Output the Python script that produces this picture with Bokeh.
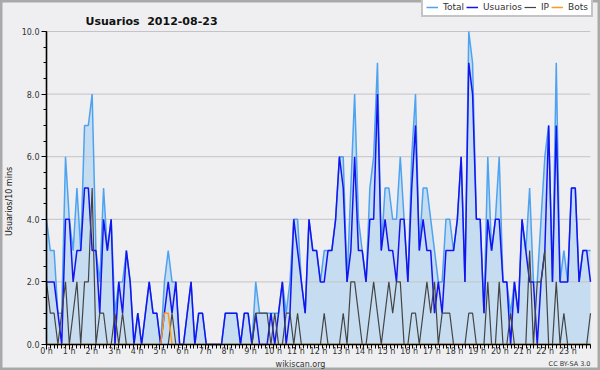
import math
from bokeh.plotting import figure
from bokeh.models import (ColumnDataSource, FixedTicker, PrintfTickFormatter, Legend,
                          LegendItem, Label, Range1d)
from bokeh.embed import file_html
from bokeh.resources import INLINE

# ---- data (10-minute buckets, 2012-08-23) ----
hour_labels = [f"{h} h" for h in range(24)]
y_ticks = [0, 2, 4, 6, 8, 10]

total = [4, 3, 3, 1, 1, 6, 4, 3, 5, 3, 7, 7, 8, 3, 2, 5, 3, 4, 1, 2, 2, 3, 2, 0,
         1, 0, 1, 2, 1, 1, 0, 2, 3, 2, 2, 0, 0, 1, 2, 0, 1, 1, 0, 0, 0, 0, 0, 1,
         1, 1, 1, 0, 1, 1, 0, 2, 1, 1, 1, 1, 1, 1, 2, 1, 2, 4, 4, 2, 1, 4, 3, 3,
         2, 3, 3, 3, 4, 6, 6, 2, 5, 8, 4, 3, 2, 5, 6, 9, 3, 5, 5, 4, 4, 6, 4, 2,
         6, 8, 3, 5, 5, 4, 3, 2, 2, 4, 4, 3, 4, 6, 2, 10, 9, 4, 4, 1, 6, 3, 4, 6,
         2, 2, 1, 2, 1, 4, 3, 5, 2, 2, 4, 6, 7, 2, 9, 2, 3, 2, 5, 5, 2, 3, 3, 3]

usuarios = [2, 2, 2, 1, 0, 4, 4, 2, 3, 3, 5, 5, 3, 3, 1, 4, 3, 4, 0, 2, 1, 3, 2, 0,
            1, 0, 1, 2, 1, 1, 0, 1, 2, 1, 2, 0, 0, 1, 2, 0, 1, 1, 0, 0, 0, 0, 0, 1,
            1, 1, 1, 0, 1, 1, 0, 1, 0, 0, 0, 1, 0, 1, 2, 0, 1, 4, 3, 2, 1, 4, 3, 3,
            2, 2, 3, 3, 4, 6, 5, 2, 3, 6, 3, 3, 2, 4, 4, 8, 3, 4, 3, 3, 2, 4, 4, 2,
            5, 7, 3, 4, 3, 3, 1, 2, 1, 3, 3, 3, 4, 6, 2, 9, 8, 4, 4, 1, 4, 3, 4, 4,
            2, 2, 0, 2, 1, 4, 3, 2, 2, 0, 2, 3, 7, 2, 7, 2, 2, 2, 5, 5, 2, 3, 3, 2]

ip = [2, 1, 1, 0, 1, 2, 0, 1, 2, 0, 2, 2, 5, 0, 1, 1, 0, 0, 1, 0, 1, 0, 0, 0,
      0, 0, 0, 0, 0, 0, 0, 0, 0, 1, 0, 0, 0, 0, 0, 0, 0, 0, 0, 0, 0, 0, 0, 0,
      0, 0, 0, 0, 0, 0, 0, 1, 1, 1, 1, 0, 1, 0, 0, 1, 1, 0, 1, 0, 0, 0, 0, 0,
      0, 1, 0, 0, 0, 0, 1, 0, 2, 2, 1, 0, 0, 1, 2, 1, 0, 1, 2, 1, 2, 2, 0, 0,
      1, 1, 0, 1, 2, 1, 2, 0, 1, 1, 1, 0, 0, 0, 0, 1, 1, 0, 0, 0, 2, 0, 0, 2,
      0, 0, 1, 0, 0, 0, 0, 3, 0, 2, 2, 3, 0, 0, 2, 0, 1, 0, 0, 0, 0, 0, 0, 1]

bots = [0] * 31 + [1, 1] + [0] * 111

n = len(total)
# samples are spread over the full 0-24 h axis (first at 0 h, last at the right edge)
hours = [i * 24 / (n - 1) for i in range(n)]

src = ColumnDataSource(dict(x=hours, total=total, usuarios=usuarios, ip=ip, bots=bots))
grid_src = ColumnDataSource(dict(y=y_ticks[1:]))

FONT = "DejaVu Sans"
TXT = "#333333"

# canvas = frame = 600x370; pixel mapping: x 0..24 h -> 46..590 px, y 0..10 -> 344..31 px
W, H = 600, 370
PX_H = 544 / 24
PX_U = 313 / 10
x0 = -46 / PX_H
x1 = 24 + (W - 590) / PX_H
y0 = -(H - 344) / PX_U
y1 = 10 + 31 / PX_U

p = figure(width=W, height=H, output_backend="svg", toolbar_location=None,
           x_range=Range1d(x0, x1), y_range=Range1d(y0, y1),
           min_border_left=0, min_border_right=0, min_border_top=0, min_border_bottom=0)
p.background_fill_color = "#EFEFF1"
p.border_fill_color = "#EFEFF1"
# outline of the (full-canvas) frame acts as the picture border
p.outline_line_color = "#A9A9A9"
p.outline_line_width = 4
p.xgrid.visible = False
p.ygrid.visible = False

# area
p.varea(x="x", y1=0, y2="total", source=src, fill_color="#C6DCF0", fill_alpha=1)
# horizontal grid lines over the area, limited to the axis extent
p.segment(x0=0, x1=24, y0="y", y1="y", source=grid_src, line_color="#C4C4C8", line_width=1)
# series lines
r_total = p.line("x", "total", source=src, line_color="#4DA3F0", line_width=1.5)
r_users = p.line("x", "usuarios", source=src, line_color="#1414F0", line_width=1.5)
r_ip = p.line("x", "ip", source=src, line_color="#444444", line_width=1.2)
r_bots = p.line("x", "bots", source=src, line_color="#FF9A1A", line_width=1.5)

# axes (fixed inside the frame so nothing gets clipped)
p.xaxis.fixed_location = 0
p.yaxis.fixed_location = 0
p.xaxis.bounds = (0, 24)
p.yaxis.bounds = (0, 10)
p.xaxis.ticker = FixedTicker(ticks=list(range(24)), minor_ticks=[i / 6 for i in range(145)])
p.xaxis.major_label_overrides = {h: hour_labels[h] for h in range(24)}
p.yaxis.ticker = FixedTicker(ticks=y_ticks, minor_ticks=[i * 0.5 for i in range(21)])
p.yaxis.formatter = PrintfTickFormatter(format="%.1f")
for ax in (p.xaxis[0], p.yaxis[0]):
    ax.axis_line_color = "#000000"
    ax.axis_line_width = 1.6
    ax.major_tick_line_color = "#000000"
    ax.minor_tick_line_color = "#000000"
    ax.major_tick_in = 0
    ax.minor_tick_in = 0
    ax.major_tick_out = 5
    ax.minor_tick_out = 3
    ax.major_label_text_font = FONT
    ax.major_label_text_font_size = "8px"
    ax.major_label_text_color = TXT
    ax.major_label_standoff = 2
p.xaxis.minor_tick_out = 4
p.xaxis.major_label_standoff = -3

# frame-relative screen coordinates (origin = bottom-left of the canvas)
p.add_layout(Label(x=9, y=H - 201, x_units="screen", y_units="screen", angle=math.pi / 2,
                   text="Usuarios/10 mins", text_font=FONT, text_font_size="8px",
                   text_color="#111111", text_align="center", text_baseline="middle"))

p.add_layout(Label(x=85, y=H - 21, x_units="screen", y_units="screen",
                   text="Usuarios \u00a02012-08-23", text_font=FONT, text_font_size="11px",
                   text_font_style="bold", text_color="#111111", text_baseline="alphabetic"))

legend = Legend(items=[LegendItem(label="Total", renderers=[r_total]),
                       LegendItem(label="Usuarios", renderers=[r_users]),
                       LegendItem(label="IP", renderers=[r_ip]),
                       LegendItem(label="Bots", renderers=[r_bots])],
                orientation="horizontal", location=(421, H - 17),
                label_text_font=FONT, label_text_font_size="9px", label_text_color=TXT,
                label_height=10, glyph_height=10, glyph_width=12, label_standoff=5,
                label_width=0, spacing=2, padding=3, margin=0,
                background_fill_color="#FFFFFF", background_fill_alpha=1,
                border_line_color="#8A8A8A", border_line_width=2)
p.add_layout(legend, "center")

p.add_layout(Label(x=300, y=H - 364, x_units="screen", y_units="screen",
                   text="wikiscan.org", text_font=FONT, text_font_size="8px", text_color=TXT,
                   text_align="center", text_baseline="alphabetic"))
p.add_layout(Label(x=590, y=H - 363, x_units="screen", y_units="screen",
                   text="CC BY-SA 3.0", text_font=FONT, text_font_size="6.5px", text_color=TXT,
                   text_align="right", text_baseline="alphabetic"))

open("out.html", "w").write(file_html(p, INLINE))
